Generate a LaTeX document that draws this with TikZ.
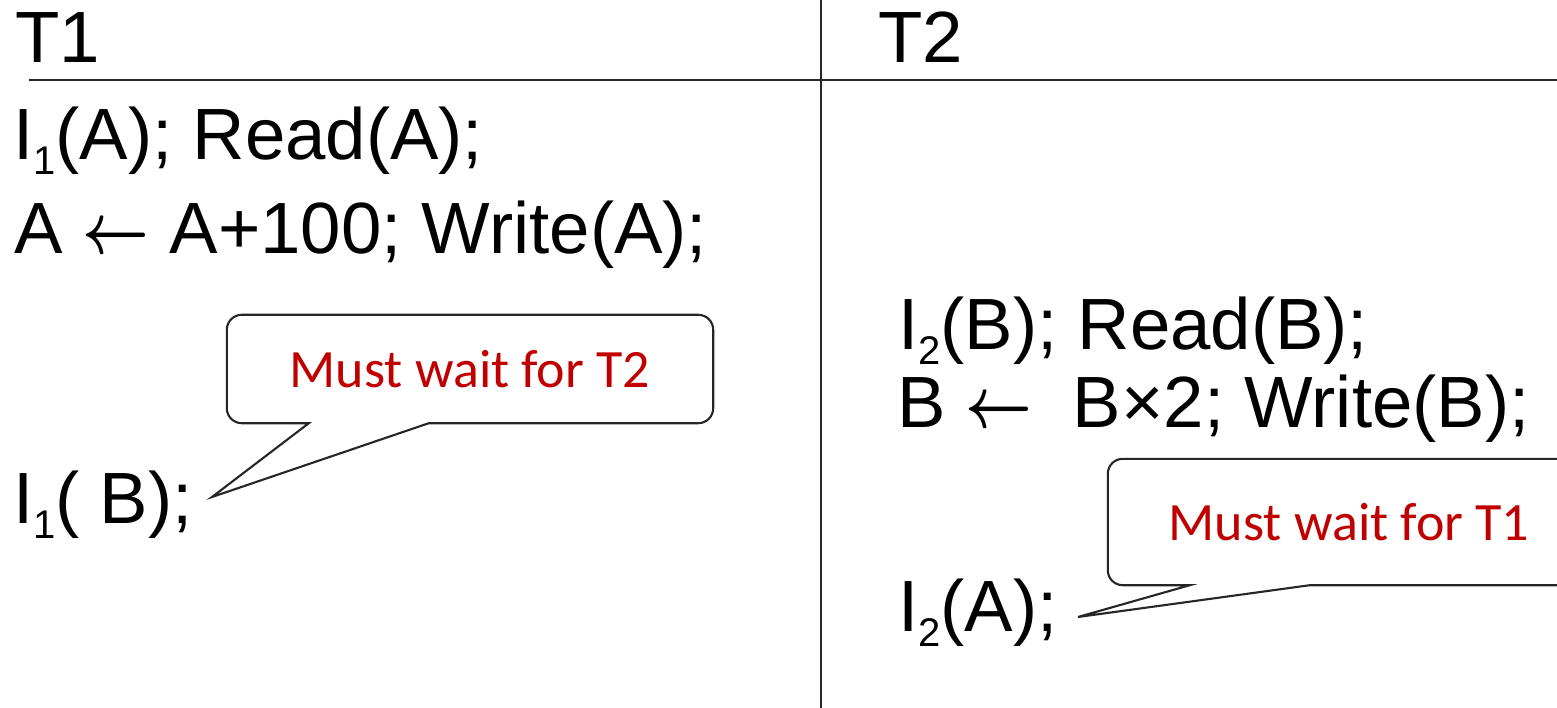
\RequirePackage{fix-cm}
\documentclass[tikz,border=0pt]{standalone}
\usepackage{amsmath}
\usepackage{graphicx}
\usepackage{fontspec}
\setmainfont{Liberation Sans}
\newfontfamily\notefont{Carlito}
\usetikzlibrary{calc}
\definecolor{notered}{HTML}{C00000}
\newcommand{\ix}[1]{\raisebox{-15pt}{\fontsize{40}{40}\selectfont #1}}
\newcommand{\assign}{\scalebox{0.8}[1]{$\boldsymbol{\leftarrow}$}}

\begin{document}
\begin{tikzpicture}[x=1pt, y=-1pt,
  rule/.style={line width=2.4pt, black!85},
  txt/.style={anchor=base west, inner sep=0pt, font=\fontsize{72.6}{80}\selectfont},
  note/.style={inner sep=0pt, text=notered, font=\notefont\fontsize{54}{60}\selectfont},
  callout line/.style={line width=2.1pt, black!85, line join=miter}]
\useasboundingbox (0,0) rectangle (1557,708);
\clip (0,0) rectangle (1557,708);
% table rules
\draw[rule] (821,0) -- (821,708);
\draw[rule] (29,80) -- (1557,80);
% headers
\node[txt] (t1) at (15,63) {T1};
\node[txt] (t2) at (878,63) {T2};
% T1 steps
\node[txt] (a1) at (13,160) {I\ix{1}(A); Read(A);};
\node[txt] (a2) at (14,254) {A \assign{} A+100; Write(A);};
\node[txt] (a3) at (13,523) {I\ix{1}( B);};
% T2 steps
\node[txt] (b1) at (898,349) {I\ix{2}(B); Read(B);};
\node[txt] (b2) at (897,427) {B \assign\ \ B×2; Write(B);};
\node[txt] (b3) at (898,631) {I\ix{2}(A);};
% callouts
\coordinate (tip1) at (212,497);
\coordinate (tip2) at (1078,617);
\node[note, minimum width=486, minimum height=108] (w1) at (470,369) {Must wait for T2};
\node[note, minimum width=482, minimum height=126] (w2) at (1349,522) {Must wait for T1};
\foreach \bb/\tp in {w1/tip1, w2/tip2} {
  \draw[callout line] ($(\bb.south west)+(202,0)$)
    [rounded corners=15pt] -- (\bb.south east) -- (\bb.north east) -- (\bb.north west) -- (\bb.south west)
    [sharp corners] -- ($(\bb.south west)+(82,0)$) -- (\tp) -- cycle;
}
\end{tikzpicture}
\end{document}
